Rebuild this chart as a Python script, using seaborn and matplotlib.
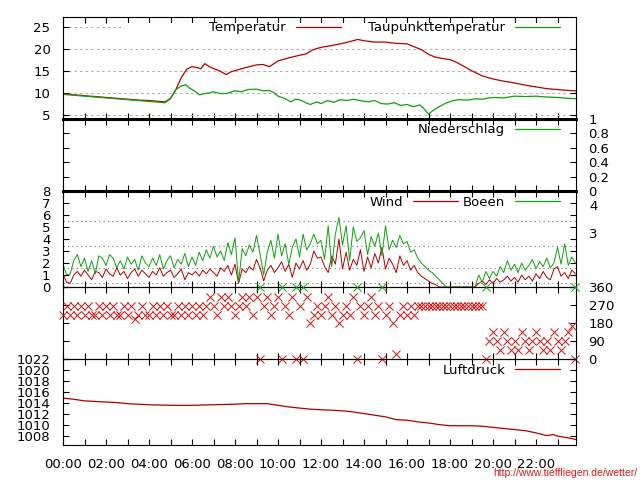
import numpy as np
import pandas as pd
import matplotlib
matplotlib.use('Agg')
import matplotlib.pyplot as plt
import matplotlib.transforms as mtransforms
from matplotlib.patches import Rectangle
from matplotlib.lines import Line2D
import seaborn as sns

# ---------------- data ----------------
x_tick_hours = list(range(24))
x_tick_labels = ['00:00', '', '02:00', '', '04:00', '', '06:00', '', '08:00', '', '10:00', '',
                 '12:00', '', '14:00', '', '16:00', '', '18:00', '', '20:00', '', '22:00', '']

temp_t = [0.0, 0.5, 1.0, 1.5, 2.0, 2.5, 3.0, 3.5, 4.0, 4.5, 4.75, 5.0, 5.25, 5.5, 5.75, 6.0,
          6.25, 6.4, 6.6, 6.8, 7.0, 7.3, 7.6, 7.8, 8.0, 8.5, 9.0, 9.3, 9.6, 10.0, 10.5, 11.0,
          11.3, 11.6, 12.0, 12.5, 13.0, 13.5, 13.7, 14.0, 14.5, 15.0, 15.5, 16.0, 16.3, 16.7,
          17.0, 17.3, 17.6, 18.0, 18.3, 18.6, 19.0, 19.5, 20.0, 20.5, 21.0, 21.5, 22.0, 22.5,
          23.0, 23.5, 23.86]
temp_v = [9.9, 9.6, 9.4, 9.2, 9.0, 8.8, 8.6, 8.4, 8.3, 8.1, 8.0, 8.8, 10.8, 13.5, 15.4, 16.0,
          15.8, 15.5, 16.7, 16.0, 15.6, 15.0, 14.2, 14.8, 15.1, 15.8, 16.4, 16.5, 16.0, 17.3,
          18.0, 18.6, 18.9, 19.8, 20.4, 20.8, 21.3, 21.9, 22.2, 21.9, 21.6, 21.6, 21.3, 21.2,
          20.6, 19.8, 18.8, 18.2, 17.9, 17.6, 17.0, 16.2, 15.1, 13.9, 13.2, 12.7, 12.3, 11.8,
          11.4, 11.0, 10.8, 10.6, 10.5]

dew_t = [0.0, 0.5, 1.0, 1.5, 2.0, 2.5, 3.0, 3.5, 4.0, 4.5, 4.75, 5.0, 5.25, 5.5, 5.7, 5.9,
         6.1, 6.35, 6.6, 6.8, 7.0, 7.3, 7.6, 8.0, 8.3, 8.6, 9.0, 9.3, 9.6, 9.8, 10.0, 10.3,
         10.6, 10.8, 11.0, 11.3, 11.5, 11.8, 12.0, 12.3, 12.6, 12.9, 13.2, 13.5, 13.8, 14.2,
         14.5, 14.8, 15.1, 15.4, 15.7, 16.0, 16.3, 16.6, 16.8, 17.0, 17.2, 17.5, 17.8, 18.1,
         18.4, 18.8, 19.2, 19.5, 19.8, 20.1, 20.5, 21.0, 21.5, 22.0, 22.5, 23.0, 23.5, 23.86]
dew_v = [9.7, 9.5, 9.3, 9.1, 8.9, 8.7, 8.5, 8.3, 8.1, 7.9, 7.8, 8.7, 10.8, 11.6, 11.9, 11.1,
         10.5, 9.6, 9.9, 10.0, 10.3, 9.9, 9.9, 10.5, 10.3, 10.8, 10.9, 10.5, 10.6, 10.1, 9.3,
         8.8, 8.0, 8.6, 8.5, 7.8, 7.4, 8.0, 7.6, 8.3, 7.9, 8.5, 8.3, 8.6, 8.3, 8.0, 8.3, 7.6,
         7.5, 7.8, 7.2, 7.4, 6.9, 7.3, 6.4, 5.2, 6.0, 6.9, 7.7, 8.2, 8.5, 8.4, 8.7, 8.6, 8.9,
         9.0, 8.9, 9.3, 9.2, 9.3, 9.1, 9.0, 8.8, 8.7]

rain_t = [0.0, 6.0, 12.0, 18.0, 23.86]
rain_v = [0.0, 0.0, 0.0, 0.0, 0.0]

# 10-minute samples, one row per hour
wind_interval_h = 1.0 / 6.0
wind = [
    1.1, 0.4, 0.3, 1.0, 1.3, 0.9,
    1.4, 1.0, 0.6, 1.3, 1.2, 0.8,
    1.5, 1.1, 0.9, 1.6, 1.0, 1.3,
    0.7, 1.2, 1.5, 0.9, 1.4, 1.1,
    0.8, 1.3, 1.0, 1.6, 0.9, 1.2,
    1.4, 0.8, 1.1, 1.5, 0.6, 1.2,
    1.0, 1.3, 0.9, 1.4, 1.1, 1.5,
    1.2, 0.9, 1.6, 1.3, 1.8, 1.0,
    1.9, 0.3, 1.5, 1.2, 1.7, 1.4,
    2.3, 1.6, 0.5, 1.4, 1.8, 1.2,
    1.6, 2.1, 1.3, 1.9, 0.8, 2.0,
    1.5, 2.2, 1.4, 1.9, 3.0, 2.4,
    2.5, 1.7, 1.2, 2.6, 1.9, 4.0,
    1.5, 2.9, 1.4, 2.3, 1.8, 3.1,
    1.3, 2.5, 1.6, 2.8, 2.0, 3.3,
    1.5, 2.4, 1.9, 1.2, 2.6, 1.8,
    2.2, 1.4, 1.8, 1.2, 0.9, 0.7,
    0.5, 0.3, 0.2, 0.0, 0.0, 0.0,
    0.0, 0.0, 0.0, 0.0, 0.0, 0.0,
    0.0, 0.0, 0.3, 0.5, 0.2, 0.6,
    0.3, 0.7, 0.4, 0.6, 0.9, 0.5,
    0.8, 0.4, 1.0, 0.6, 0.9, 0.5,
    1.1, 0.7, 1.3, 0.8, 0.6, 1.5,
    1.7, 0.9, 1.2, 0.7, 1.4, 1.1,
]
gust = [
    1.9, 1.0, 1.1, 2.2, 2.7, 1.7,
    2.4, 1.3, 2.2, 1.1, 2.6, 2.4,
    1.8, 2.7, 2.4, 1.6, 2.2, 1.5,
    2.5, 1.9, 2.3, 1.4, 2.6, 2.0,
    1.7, 2.4, 1.8, 2.7, 1.5, 2.2,
    2.6, 1.6, 2.3, 1.9, 2.8, 1.7,
    2.5, 1.8, 2.9, 2.2, 3.1, 2.4,
    3.4, 2.5, 3.0, 2.2, 3.7, 2.7,
    4.1, 0.4, 3.2, 2.6, 3.5, 2.9,
    4.3, 2.7, 1.0, 2.9, 3.9, 2.4,
    4.4, 2.6, 3.6, 1.9, 3.3, 4.0,
    2.5, 4.4, 3.1, 3.6, 4.4, 3.6,
    3.9, 2.3, 5.1, 1.7, 4.4, 5.8,
    3.5, 5.1, 2.2, 5.0, 3.8, 4.1,
    4.7, 2.7, 4.2, 3.4, 4.5, 2.6,
    5.1, 3.1, 3.9, 3.3, 4.3, 3.6,
    3.8, 2.9, 3.1, 2.4, 2.0, 1.7,
    1.4, 1.2, 0.9, 0.6, 0.3, 0.0,
    0.0, 0.0, 0.0, 0.0, 0.0, 0.0,
    0.0, 0.0, 1.0, 0.4, 1.3, 0.7,
    1.3, 0.9, 1.7, 1.2, 2.2, 1.4,
    1.9, 1.2, 2.0, 1.4, 1.8, 2.3,
    1.5, 2.1, 1.7, 2.4, 1.6, 2.0,
    3.3, 1.9, 3.6, 1.8, 2.5, 2.0,
]
wind_dir = [
    222, 267, 222, 267, 222, 267,
    222, 267, 222, 222, 267, 222,
    267, 222, 267, 222, 222, 267,
    222, 267, 200, 222, 267, 222,
    222, 267, 222, 267, 222, 267,
    222, 222, 267, 222, 267, 222,
    267, 222, 267, 222, 267, 312,
    267, 222, 312, 267, 312, 267,
    222, 267, 312, 267, 312, 222,
    312, 0, 267, 312, 222, 267,
    312, 0, 267, 222, 312, 0,
    267, 0, 312, 178, 222, 267,
    222, 267, 312, 222, 267, 178,
    222, 267, 222, 312, 0, 267,
    222, 267, 312, 222, 267, 0,
    222, 267, 178, 25, 222, 267,
    222, 267, 222, 267, 267, 267,
    267, 267, 267, 267, 267, 267,
    267, 267, 267, 267, 267, 267,
    267, 267, 267, 267, 0, 88,
    133, 88, 45, 133, 88, 45,
    88, 45, 133, 88, 45, 88,
    133, 88, 45, 88, 45, 133,
    88, 45, 88, 133, 165, 0,
]

press_t = [0.0, 0.5, 1.0, 1.5, 2.0, 2.5, 3.0, 4.0, 5.0, 6.0, 7.0, 8.0, 8.5, 9.0, 9.5, 10.0,
           10.5, 11.0, 11.5, 12.0, 12.5, 13.0, 13.5, 14.0, 14.5, 15.0, 15.5, 16.0, 16.5, 17.0,
           17.5, 18.0, 18.5, 19.0, 19.5, 20.0, 20.5, 21.0, 21.5, 22.0, 22.5, 22.8, 23.0, 23.5,
           23.86]
press_v = [1014.9, 1014.7, 1014.4, 1014.3, 1014.2, 1014.1, 1013.9, 1013.7, 1013.6, 1013.6,
           1013.7, 1013.8, 1013.9, 1013.9, 1013.9, 1013.6, 1013.3, 1013.1, 1012.9, 1012.8,
           1012.7, 1012.6, 1012.4, 1012.1, 1011.8, 1011.5, 1011.0, 1010.9, 1010.6, 1010.4,
           1010.1, 1009.9, 1009.9, 1009.9, 1009.8, 1009.6, 1009.4, 1009.2, 1009.0, 1008.6,
           1008.1, 1008.3, 1008.0, 1007.7, 1007.4]

temp_ticks = [5, 10, 15, 20, 25]
rain_ticks = [0, 0.2, 0.4, 0.6, 0.8, 1]
rain_tick_labels = ['0', '0.2', '0.4', '0.6', '0.8', '1']
wind_ticks = [0, 1, 2, 3, 4, 5, 6, 7, 8]
bft_bounds = [0.3, 1.6, 3.4, 5.5, 8.0]
bft_label_pos = [4.4, 6.7]
bft_labels = ['3', '4']
dir_ticks = [0, 90, 180, 270, 360]
press_ticks = [1008, 1010, 1012, 1014, 1016, 1018, 1020, 1022]

# ---------------- style ----------------
sns.set_theme(style='white')
plt.rcParams['font.family'] = ['DejaVu Sans']
plt.rcParams['font.size'] = 9.5
for k in ['text.color', 'axes.labelcolor', 'xtick.color', 'ytick.color', 'axes.edgecolor']:
    plt.rcParams[k] = 'black'

RED = '#b00000'
GREEN = '#0f9f0f'
XRED = '#d41010'

W, H = 640, 480
L, R = 63, 576
XMAX = 23.86

fig = plt.figure(figsize=(6.4, 4.8), dpi=100)
fig.patch.set_facecolor('white')


def panel(top, bottom):
    ax = fig.add_axes([L / W, 1 - bottom / H, (R - L) / W, (bottom - top) / H])
    ax.set_facecolor('none')
    ax.set_xlim(0, XMAX)
    ax.set_xticks(x_tick_hours)
    ax.set_xticklabels(x_tick_labels)
    ax.tick_params(axis='both', which='both', direction='in', length=4, width=0.8,
                   top=True, bottom=True, left=True, right=True,
                   labelbottom=False, pad=9, labelsize=9.5, colors='black')
    for s in ax.spines.values():
        s.set_linewidth(0.8)
        s.set_color('black')
    return ax


def key(ax, h_px, labels, colors, ncol, colspace=2.1):
    handles = [Line2D([], [], color=c, lw=0.9) for c in colors]
    ax.legend(handles=handles, labels=labels,
              loc='upper right', bbox_to_anchor=((560 - L) / (R - L), 1 - 4.5 / h_px),
              ncol=ncol, markerfirst=False, frameon=False, handlelength=3.4,
              handletextpad=0.75, columnspacing=colspace, borderpad=0, borderaxespad=0,
              fontsize=9.5)


# ---- Panel 1: temperature ----
ax1 = panel(17, 119)
sns.lineplot(x=temp_t, y=temp_v, ax=ax1, color=RED, lw=0.9)
sns.lineplot(x=dew_t, y=dew_v, ax=ax1, color=GREEN, lw=0.9)
ax1.set_ylim(4.1, 27.3)
ax1.set_yticks(temp_ticks)
ax1.set_axisbelow(True)
ax1.grid(axis='y', color='#a8a8a8', lw=0.8, ls=(0, (2, 3)))
ax1.grid(axis='x', visible=False)
blend1 = mtransforms.blended_transform_factory(ax1.transAxes, ax1.transData)
ax1.add_patch(Rectangle(((125 - L) / (R - L), 24.2), 1 - (125 - L) / (R - L), 1.8,
                        transform=blend1, facecolor='white', edgecolor='none', zorder=1))
key(ax1, 102, ['Temperatur', 'Taupunkttemperatur'], [RED, GREEN], 2)

# ---- Panel 2: precipitation ----
ax2 = panel(119, 191)
sns.lineplot(x=rain_t, y=rain_v, ax=ax2, color=GREEN, lw=0.9)
ax2.set_ylim(0, 1)
ax2.set_yticks(rain_ticks)
ax2.set_yticklabels(rain_tick_labels)
ax2.tick_params(axis='y', labelleft=False, labelright=True)
ax2.spines['top'].set_linewidth(2.2)
ax2.spines['bottom'].set_linewidth(2.2)
key(ax2, 72, ['Niederschlag'], [GREEN], 1)

# ---- Panel 3: wind ----
ax3 = panel(191, 287)
wind_t = np.arange(len(wind)) * wind_interval_h
for b in bft_bounds:
    ax3.axhline(b, color='#707070', lw=0.8, ls=(0, (1, 3)), zorder=0.5)
sns.lineplot(x=wind_t, y=wind, ax=ax3, color=RED, lw=0.7)
sns.lineplot(x=wind_t, y=gust, ax=ax3, color=GREEN, lw=0.7)
ax3.set_ylim(0, 8)
ax3.set_yticks(wind_ticks)
blend3 = mtransforms.blended_transform_factory(ax3.transAxes, ax3.transData)
for pos, lab in zip(bft_label_pos, bft_labels):
    ax3.text(1 + 13 / (R - L), pos, lab, transform=blend3, ha='left', va='center',
             fontsize=9.5, color='black')
key(ax3, 96, ['Wind', 'Boeen'], [RED, GREEN], 2, colspace=0.4)

# ---- Panel 4: wind direction ----
ax4 = panel(287, 359)
dir_df = pd.DataFrame({'t': np.arange(len(wind_dir)) * wind_interval_h, 'dir': wind_dir})
north = dir_df[dir_df['dir'] == 0].assign(dir=360)
sns.scatterplot(data=dir_df, x='t', y='dir', ax=ax4, marker='x', color=XRED, s=34,
                linewidth=0.7, legend=False, clip_on=False, zorder=3)
sns.scatterplot(data=north, x='t', y='dir', ax=ax4, marker='x', color=GREEN, s=34,
                linewidth=0.7, legend=False, clip_on=False, zorder=3)
ax4.set_ylim(0, 360)
ax4.set_yticks(dir_ticks)
ax4.tick_params(axis='y', labelleft=False, labelright=True)

# ---- Panel 5: pressure ----
ax5 = panel(359, 445)
sns.lineplot(x=press_t, y=press_v, ax=ax5, color=RED, lw=0.9)
ax5.set_ylim(1006.4, 1022)
ax5.set_yticks(press_ticks)
ax5.tick_params(axis='x', labelbottom=True)
key(ax5, 86, ['Luftdruck'], [RED], 1)

for ax in [ax1, ax2, ax3, ax4, ax5]:
    ax.set_xlim(0, XMAX)
    ax.set_xlabel('')
    ax.set_ylabel('')

fig.text(637 / W, 1 - 476 / H, 'http://www.tieffliegen.de/wetter/', ha='right', va='baseline',
         color='#e01818', fontsize=7.5, family=['Liberation Sans Narrow', 'Liberation Sans'])

fig.savefig('out.png', dpi=100, facecolor='white')
